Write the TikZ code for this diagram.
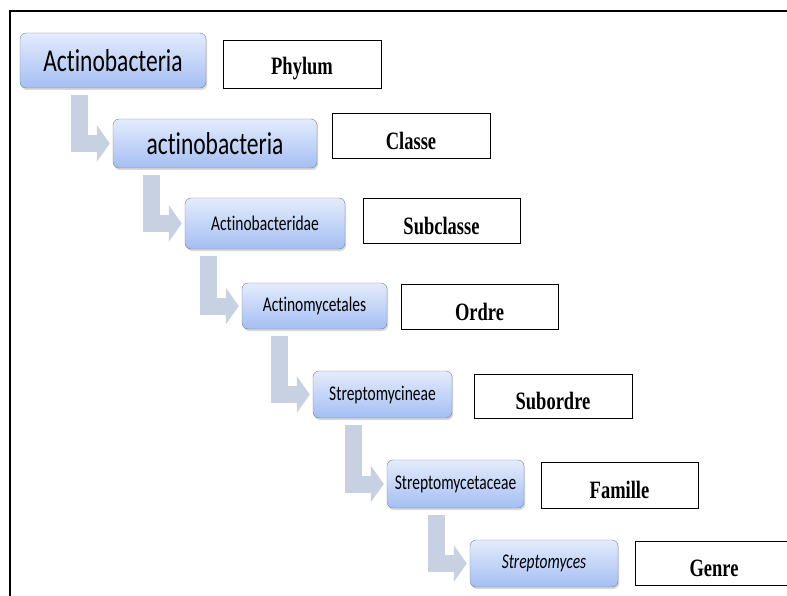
\documentclass[tikz,border=0pt]{standalone}
\usepackage{fontspec}
\usepackage{graphicx}
\usetikzlibrary{arrows.meta,shadows}
\newfontfamily\taxfont[Ligatures=CommonOff]{Carlito}
\newfontfamily\rankfont{Liberation Serif}
\newcommand{\tall}[1]{\scalebox{1}[1.35]{#1}}
\newcommand{\low}[1]{\raisebox{-5pt}[\height][\depth]{\tall{#1}}}
\pgfdeclarelayer{edgelayer}
\pgfdeclarelayer{nodelayer}
\pgfsetlayers{edgelayer,nodelayer,main}
\definecolor{taxtop}{RGB}{228,236,252}
\definecolor{taxbottom}{RGB}{164,190,243}
\definecolor{taxline}{RGB}{118,128,150}
\definecolor{arrowfill}{RGB}{199,209,226}
\tikzstyle{taxon}=[rectangle, rounded corners=6pt, draw=taxline, top color=taxtop, bottom color=taxbottom, drop shadow={shadow xshift=1.2pt, shadow yshift=-2pt, opacity=0.3}, inner sep=0pt, font=\taxfont\fontsize{15.5pt}{16pt}\selectfont]
\tikzstyle{bigtaxon}=[taxon, font=\taxfont\fontsize{23.5pt}{24pt}\selectfont]
\tikzstyle{rank}=[rectangle, draw=black, fill=white, line width=0.9pt, inner sep=0pt, font=\rankfont\bfseries\fontsize{18.5pt}{20pt}\selectfont]
\tikzstyle{bentarrow}=[draw=arrowfill, line width=17pt, -{Triangle[width=36pt,length=13pt]}, shorten <=7pt, shorten >=3pt]

\begin{document}
\begin{tikzpicture}[x=1pt,y=-1pt]
	\useasboundingbox (0,0) rectangle (787,596);
	\draw [line width=2pt] (787,11) -- (10,11) -- (10,596);
	\begin{pgfonlayer}{nodelayer}
		% taxa
		\node [style=bigtaxon, minimum width=186pt, minimum height=55pt] (t1) at (113,60.5) {\tall{Actinobacteria}};
		\node [style=bigtaxon, minimum width=204pt, minimum height=49pt] (t2) at (215,143.5) {\tall{actinobacteria}};
		\node [style=taxon, minimum width=160pt, minimum height=51pt] (t3) at (265,223.5) {\tall{Actinobacteridae}};
		\node [style=taxon, minimum width=145pt, minimum height=46pt] (t4) at (314.5,306) {\tall{Actinomycetales}};
		\node [style=taxon, minimum width=139pt, minimum height=47pt] (t5) at (382.5,394.5) {\tall{Streptomycineae}};
		\node [style=taxon, minimum width=137pt, minimum height=48pt] (t6) at (455.5,484) {\tall{Streptomycetaceae}};
		\node [style=taxon, minimum width=148pt, minimum height=47pt] (t7) at (544,563.5) {\tall{\itshape Streptomyces}};
		% ranks
		\node [style=rank, minimum width=158pt, minimum height=48pt] (r1) at (302,64) {\low{Phylum}};
		\node [style=rank, minimum width=158pt, minimum height=45pt] (r2) at (411,135.5) {\low{Classe}};
		\node [style=rank, minimum width=157pt, minimum height=45pt] (r3) at (441.5,220.5) {\low{Subclasse}};
		\node [style=rank, minimum width=157pt, minimum height=45pt] (r4) at (479.5,306.5) {\low{Ordre}};
		\node [style=rank, minimum width=158pt, minimum height=44pt] (r5) at (553,396) {\low{Subordre}};
		\node [style=rank, minimum width=157pt, minimum height=46pt] (r6) at (619.5,485) {\low{Famille}};
		\node [style=rank, minimum width=158pt, minimum height=44pt] (r7) at (714,563) {\low{Genre}};
	\end{pgfonlayer}
	\begin{pgfonlayer}{edgelayer}
		\coordinate (c1) at ([xshift=-33pt]t2.west);
		\coordinate (c2) at ([xshift=-33pt]t3.west);
		\coordinate (c3) at ([xshift=-33pt]t4.west);
		\coordinate (c4) at ([xshift=-33pt]t5.west);
		\coordinate (c5) at ([xshift=-33pt]t6.west);
		\coordinate (c6) at ([xshift=-33pt]t7.west);
		\draw [style=bentarrow] (c1 |- t1.south) |- (t2.west);
		\draw [style=bentarrow] (c2 |- t2.south) |- (t3.west);
		\draw [style=bentarrow] (c3 |- t3.south) |- (t4.west);
		\draw [style=bentarrow] (c4 |- t4.south) |- (t5.west);
		\draw [style=bentarrow] (c5 |- t5.south) |- (t6.west);
		\draw [style=bentarrow] (c6 |- t6.south) |- (t7.west);
	\end{pgfonlayer}
\end{tikzpicture}
\end{document}
